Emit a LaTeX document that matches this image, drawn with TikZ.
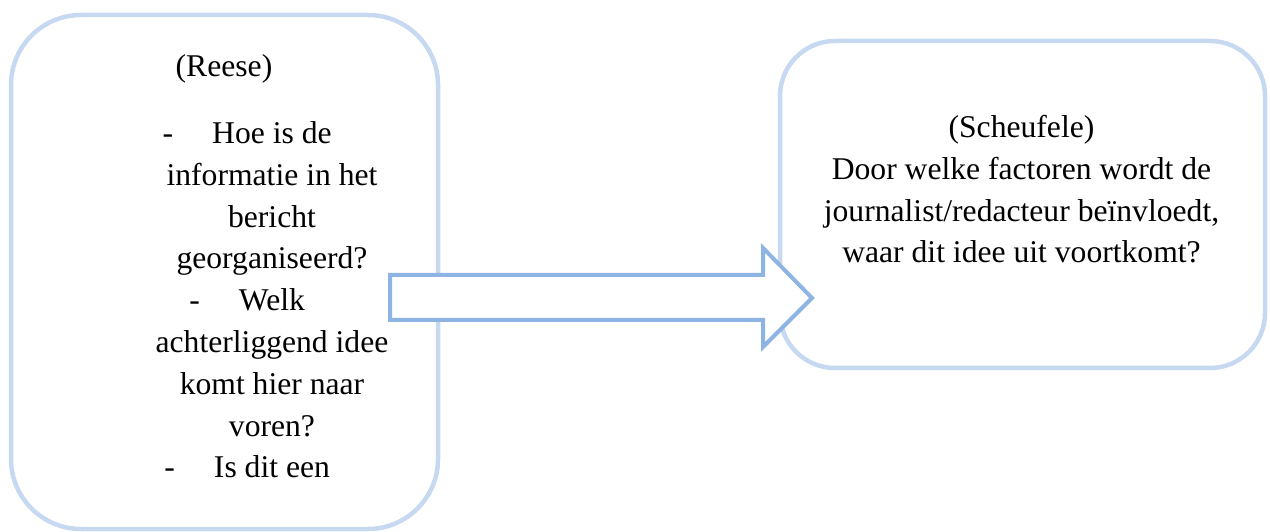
\documentclass[tikz,border=0pt]{standalone}
\usepackage{fontspec}
\setmainfont{Liberation Serif}
\usepackage{tikz}
\usetikzlibrary{positioning}
\definecolor{boxblue}{HTML}{C6D9F1}
\definecolor{arrowblue}{HTML}{8EB4E3}

\begin{document}
\begin{tikzpicture}[
    box/.style={rectangle, draw=boxblue, line width=0.09cm, rounded corners=#1},
    label/.style={align=center, font=\fontsize{18}{23.8}\selectfont, inner sep=0pt},
    blockarrow/.style={draw=arrowblue, fill=white, line width=0.08cm, line join=miter}
]
\useasboundingbox (0,0) rectangle (25.4,10.62);

% Boxes
\node[box=1.4cm, minimum width=8.54cm, minimum height=10.28cm] (reese) at (4.49,5.18) {};
\node[box=1.1cm, minimum width=9.7cm, minimum height=6.54cm] (scheufele) at (20.45,6.53) {};

% Block arrow
\draw[blockarrow] (7.8,5.12) -- (15.26,5.12) -- (15.26,5.66) -- (16.24,4.66)
    -- (15.26,3.68) -- (15.26,4.22) -- (7.8,4.22) -- cycle;

% Texts (base = last line)
\node[label, anchor=base] (reesetitle) at (4.48,9.08) {(Reese)};
\node[label, anchor=base] (reeselist) at (5.44,1.06) {\llap{-\hspace{0.78cm}}Hoe is de\\ informatie in het\\ bericht\\ georganiseerd?\\ \llap{-\hspace{0.78cm}}Welk\\ achterliggend idee\\ komt hier naar\\ voren?\\ \llap{-\hspace{0.78cm}}Is dit een};
\node[label, anchor=base] (scheufeletext) at (20.43,5.36) {(Scheufele)\\ Door welke factoren wordt de\\ journalist/redacteur beïnvloedt,\\ waar dit idee uit voortkomt?};

\end{tikzpicture}
\end{document}
